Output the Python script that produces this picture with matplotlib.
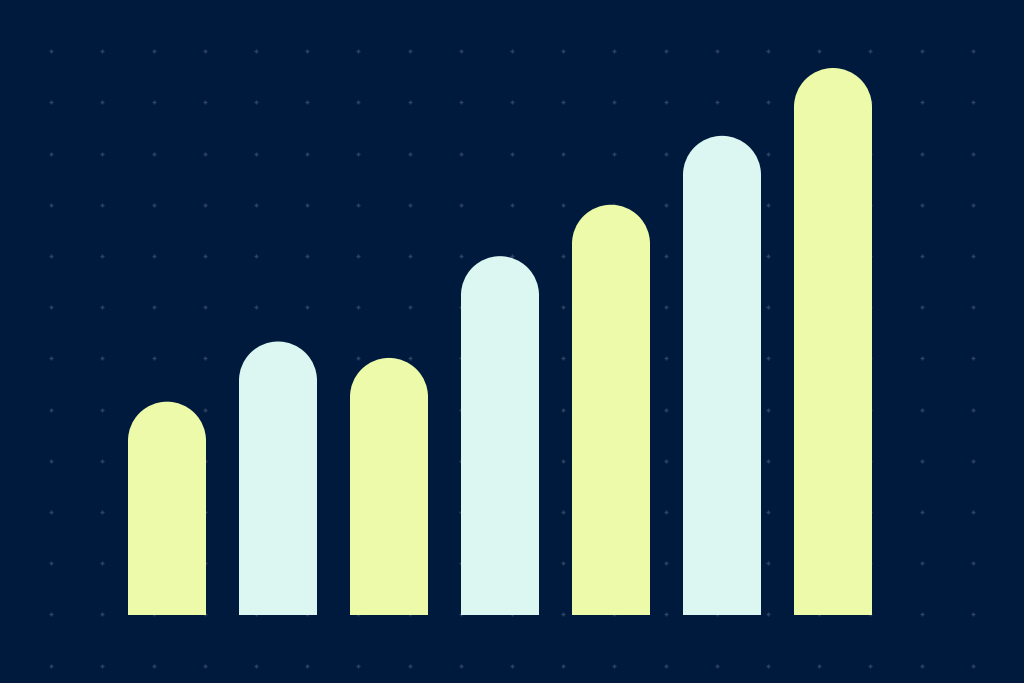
import numpy as np
import matplotlib
matplotlib.use("Agg")
import matplotlib.pyplot as plt
from matplotlib.patches import Ellipse

# bar values (tallest = 100)
categories = ["1", "2", "3", "4", "5", "6", "7"]
values = [39, 50, 47, 65.6, 75, 87.6, 100]
colors = ["#edfaa9", "#dcf6f2", "#edfaa9", "#dcf6f2", "#edfaa9", "#dcf6f2", "#edfaa9"]

bg = "#001a3d"
dot_color = "#2f4160"

W, H = 1024, 683
fig = plt.figure(figsize=(W / 100, H / 100), dpi=100, facecolor=bg)

# dotted background grid in pixel coords
bgax = fig.add_axes([0, 0, 1, 1])
bgax.set_xlim(0, W)
bgax.set_ylim(H, 0)
bgax.axis("off")
gx, gy = np.meshgrid(np.arange(1, 20) * 51.2, np.arange(1, 14) * 51.2)
bgax.plot(gx.ravel(), gy.ravel(), "+", color=dot_color, ms=3.5, mew=1.0)

# bars
ax = fig.add_axes([0, 0, 1, 1])
ax.patch.set_alpha(0)
px_per_unit = 5.47
px_per_cat = 111
ax.set_xlim(-167 / px_per_cat, (W - 167) / px_per_cat)
ax.set_ylim(-68 / px_per_unit, (H - 68) / px_per_unit)
ax.axis("off")

x = np.arange(len(categories))
bw = 78 / px_per_cat
r = 39 / px_per_unit
ax.bar(x, np.array(values) - r, width=bw, color=colors, linewidth=0)
for xi, v, c in zip(x, values, colors):
    ax.add_patch(Ellipse((xi, v - r), bw, 2 * r, color=c, linewidth=0))

fig.savefig("out.png", dpi=100, facecolor=bg)
